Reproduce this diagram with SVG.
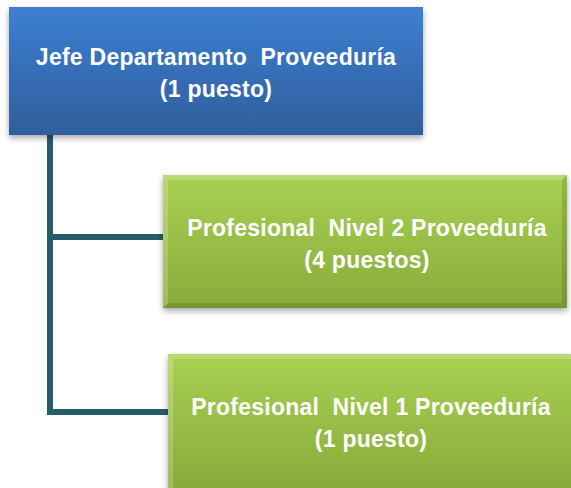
<svg xmlns="http://www.w3.org/2000/svg" width="571" height="488" viewBox="0 0 571 488">
<defs>
<linearGradient id="gBlue" x1="0" y1="0" x2="0" y2="1">
<stop offset="0" stop-color="#3d7fd2"/>
<stop offset="1" stop-color="#2f5e9c"/>
</linearGradient>
<linearGradient id="gGreen" x1="0" y1="0" x2="0" y2="1">
<stop offset="0" stop-color="#a8d152"/>
<stop offset="1" stop-color="#88ab3b"/>
</linearGradient>
<filter id="sh" x="-10%" y="-10%" width="120%" height="130%">
<feGaussianBlur in="SourceAlpha" stdDeviation="3"/>
<feOffset dx="0" dy="3" result="b"/>
<feComponentTransfer><feFuncA type="linear" slope="0.35"/></feComponentTransfer>
<feMerge><feMergeNode/><feMergeNode in="SourceGraphic"/></feMerge>
</filter>
</defs>
<style>
.lbl{font-family:"Liberation Sans",Arial,sans-serif;font-weight:bold;font-size:23px;letter-spacing:0.25px;fill:#ffffff;text-anchor:middle;white-space:pre}
.conn{fill:none;stroke:#245d6c;stroke-width:6}
.hi{fill:#ffffff;opacity:0.2}
.lo{fill:#000000;opacity:0.12}
</style>
<g id="connectors">
<path class="conn" d="M50 135 V412 H168"/>
<path class="conn" d="M50 237 H163"/>
</g>
<g id="node-jefe">
<rect x="9" y="7" width="414" height="128" fill="url(#gBlue)" filter="url(#sh)"/>
<text class="lbl" x="216" y="65" xml:space="preserve">Jefe Departamento  Proveeduría</text>
<text class="lbl" x="216" y="97">(1 puesto)</text>
</g>
<g id="node-prof2">
<rect x="163" y="175" width="404" height="133" fill="url(#gGreen)" filter="url(#sh)"/>
<polygon class="hi" points="163,175 567,175 562,180 168,180"/>
<polygon class="hi" points="163,175 168,180 168,303 163,308"/>
<polygon class="lo" points="567,175 567,308 562,303 562,180"/>
<polygon class="lo" points="163,308 567,308 562,303 168,303"/>
<text class="lbl" x="367" y="236" xml:space="preserve">Profesional  Nivel 2 Proveeduría</text>
<text class="lbl" x="367" y="268">(4 puestos)</text>
</g>
<g id="node-prof1">
<rect x="168" y="354" width="405" height="136" fill="url(#gGreen)" filter="url(#sh)"/>
<polygon class="hi" points="168,354 571,354 571,359 173,359"/>
<polygon class="hi" points="168,354 173,359 173,488 168,488"/>
<text class="lbl" x="371" y="415" xml:space="preserve">Profesional  Nivel 1 Proveeduría</text>
<text class="lbl" x="371" y="447">(1 puesto)</text>
</g>
</svg>
